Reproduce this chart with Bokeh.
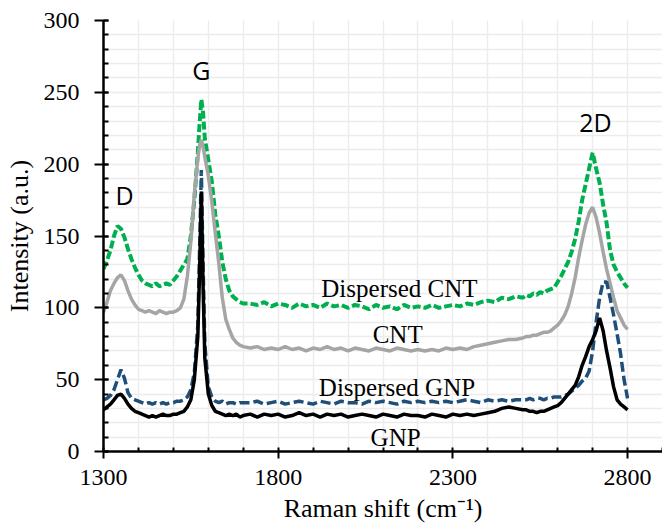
from bokeh.plotting import figure
from bokeh.models import FixedTicker, SingleIntervalTicker, Range1d
from bokeh.core.properties import value
from bokeh.embed import file_html
from bokeh.resources import INLINE

# Raman shift grid (cm-1)
shift = [1300, 1310, 1320, 1330, 1340, 1350, 1360, 1370, 1380, 1390,
         1400, 1410, 1420, 1430, 1440, 1450, 1460, 1470, 1480, 1490,
         1500, 1510, 1520, 1530, 1540, 1550, 1560, 1570, 1575, 1580,
         1585, 1590, 1600, 1610, 1620, 1630, 1640, 1650, 1660, 1670,
         1680, 1690, 1700,
         1720, 1740, 1760, 1780, 1800, 1820, 1840, 1860, 1880, 1900,
         1920, 1940, 1960, 1980, 2000, 2020, 2040, 2060, 2080, 2100,
         2120, 2140, 2160, 2180, 2200, 2220, 2240, 2260, 2280, 2300,
         2320, 2340, 2360, 2380, 2400, 2420, 2440, 2460, 2480, 2500,
         2510, 2520, 2530, 2540, 2550, 2560, 2570, 2580, 2590, 2600,
         2610, 2620, 2630, 2640, 2650, 2660, 2670, 2680, 2690, 2700,
         2710, 2720, 2730, 2740, 2750, 2760, 2770, 2780, 2790, 2800]

dispersed_cnt = [127, 133, 140, 150, 157, 155, 149, 141, 134, 128,
                 123, 119, 117, 116, 115, 117, 115, 116, 117, 116,
                 119, 122, 126, 130, 134, 150, 175, 208, 228, 245,
                 236, 218, 203, 188, 165, 150, 132, 120, 112, 108,
                 106, 104, 103,
                 103, 102, 104, 101, 103, 102, 100, 103, 101, 102,
                 100, 103, 101, 102, 100, 102, 101, 99, 102, 100,
                 101, 99, 102, 100, 101, 100, 102, 100, 101, 102,
                 101, 103, 102, 104, 105, 104, 107, 106, 108, 107,
                 109, 108, 110, 109, 111, 110, 112, 113, 114, 118,
                 122, 127, 132, 139, 148, 160, 175, 186, 197, 208,
                 197, 187, 172, 159, 140, 130, 125, 121, 117, 114]

cnt = [97, 104, 112, 117, 121, 123, 119, 112, 106, 102,
       99, 98, 97, 98, 97, 96, 98, 97, 96, 97,
       97, 98, 100, 106, 122, 146, 179, 204, 213, 217,
       212, 205, 192, 174, 152, 131, 107, 92, 85, 79,
       76, 74, 73,
       72, 73, 71, 72, 71, 73, 71, 72, 70, 72,
       71, 73, 71, 72, 70, 72, 71, 70, 72, 71,
       70, 72, 71, 70, 71, 70, 71, 70, 72, 71,
       72, 71, 73, 74, 75, 76, 77, 78, 78, 79,
       80, 80, 81, 81, 82, 83, 83, 84, 86, 88,
       91, 95, 101, 110, 121, 135, 147, 158, 166, 170,
       163, 152, 139, 127, 117, 107, 98, 93, 88, 85]

dispersed_gnp = [36, 37, 39, 43, 50, 57, 51, 41, 37, 36,
                 35, 34, 33, 34, 33, 34, 33, 34, 33, 34,
                 34, 35, 35, 36, 38, 43, 55, 88, 140, 196,
                 130, 75, 45, 38, 35, 34, 35, 33, 34, 34,
                 33, 34, 34,
                 34, 35, 33, 34, 35, 33, 34, 35, 34, 33,
                 35, 34, 33, 35, 34, 34, 33, 35, 34, 35,
                 34, 33, 35, 34, 35, 34, 35, 34, 35, 34,
                 35, 36, 35, 34, 36, 35, 36, 35, 36, 36,
                 36, 37, 36, 37, 37, 36, 37, 37, 38, 38,
                 38, 39, 40, 42, 44, 46, 49, 51, 56, 70,
                 90, 107, 118, 118, 107, 95, 82, 68, 50, 37]

gnp = [29, 31, 33, 36, 39, 40, 37, 33, 30, 28,
       27, 26, 25, 24, 25, 24, 25, 26, 25, 25,
       26, 26, 27, 28, 31, 36, 50, 80, 125, 181,
       115, 65, 40, 32, 28, 27, 26, 25, 26, 25,
       26, 24, 25,
       26, 24, 26, 25, 26, 24, 25, 27, 25, 26,
       24, 26, 25, 26, 24, 25, 26, 25, 24, 26,
       25, 24, 26, 25, 25, 24, 26, 25, 24, 26,
       25, 26, 25, 26, 27, 28, 30, 31, 30, 29,
       29, 28, 28, 27, 28, 28, 29, 30, 31, 32,
       34, 37, 40, 43, 46, 52, 60, 66, 73, 78,
       84, 93, 84, 70, 58, 45, 36, 33, 31, 29]

x_tick_labels = [1300, 1800, 2300, 2800]
x_minor = [1400, 1500, 1600, 1700, 1900, 2000, 2100, 2200, 2400, 2500,
           2600, 2700, 2900]
x_grid = [1300, 1400, 1500, 1600, 1700, 1800, 1900, 2000, 2100, 2200,
          2300, 2400, 2500, 2600, 2700, 2800, 2900]

series_names = ["Dispersed CNT", "CNT", "Dispersed GNP", "GNP"]
peak_names = ["D", "G", "2D"]

SERIF = "Liberation Serif"

p = figure(width=662, height=531, output_backend="svg", toolbar_location=None,
           x_range=Range1d(1300, 2900), y_range=Range1d(0, 300),
           min_border_left=103, min_border_right=0, min_border_top=20,
           min_border_bottom=80)
p.outline_line_color = None
p.background_fill_color = "white"
p.border_fill_color = "white"

# grids
p.xgrid.ticker = FixedTicker(ticks=x_grid)
p.ygrid.ticker = SingleIntervalTicker(interval=10, num_minor_ticks=0)
for g in (p.xgrid, p.ygrid):
    g.grid_line_color = "#ececec"
    g.grid_line_width = 1.5

# axes
p.xaxis.ticker = FixedTicker(ticks=x_tick_labels, minor_ticks=x_minor)
p.yaxis.ticker = SingleIntervalTicker(interval=50, num_minor_ticks=5)
for ax in (p.xaxis, p.yaxis):
    ax.axis_line_color = "black"
    ax.axis_line_width = 2.5
    ax.major_tick_line_color = "black"
    ax.minor_tick_line_color = "black"
    ax.major_tick_line_width = 2
    ax.minor_tick_line_width = 2
    ax.major_label_text_font = SERIF
    ax.major_label_text_font_size = "24px"
    ax.major_label_text_font_style = "normal"
    ax.major_label_text_color = "black"
    ax.axis_label_text_font = SERIF
    ax.axis_label_text_font_size = "26px"
    ax.axis_label_text_font_style = "normal"
    ax.axis_label_text_color = "black"

p.xaxis.major_tick_out = 7
p.xaxis.major_tick_in = 4
p.xaxis.minor_tick_out = 0
p.xaxis.minor_tick_in = 4
p.xaxis.major_label_standoff = 11
p.xaxis.axis_label = "Raman shift (cm⁻¹)"
p.xaxis.axis_label_standoff = 6

p.yaxis.major_tick_out = 9
p.yaxis.major_tick_in = 5
p.yaxis.minor_tick_out = 0
p.yaxis.minor_tick_in = 5
p.yaxis.major_label_standoff = 15
p.yaxis.axis_label = "Intensity (a.u.)"
p.yaxis.axis_label_standoff = 7

# spectra
p.line(shift, dispersed_cnt, line_color="#00b050", line_width=4, line_dash="8 3")
p.line(shift, cnt, line_color="#a5a5a5", line_width=3.5)
p.line(shift, dispersed_gnp, line_color="#1f4e79", line_width=3.5, line_dash="10 4")
p.line(shift, gnp, line_color="black", line_width=3.5)

# series labels
p.text(x=[2147, 2142, 2140, 2136], y=[113.8, 81.3, 44.5, 9.7], text=series_names,
       text_font=value(SERIF), text_font_size="25px", text_color="black",
       text_align="center", text_baseline="middle")

# peak labels
p.text(x=[1360, 1580, 2708], y=[178.3, 265.5, 229.5], text=peak_names,
       text_font=value("Open Sans"), text_font_size="25px", text_color="black",
       text_align="center", text_baseline="middle")

open("out.html", "w").write(file_html(p, INLINE))
